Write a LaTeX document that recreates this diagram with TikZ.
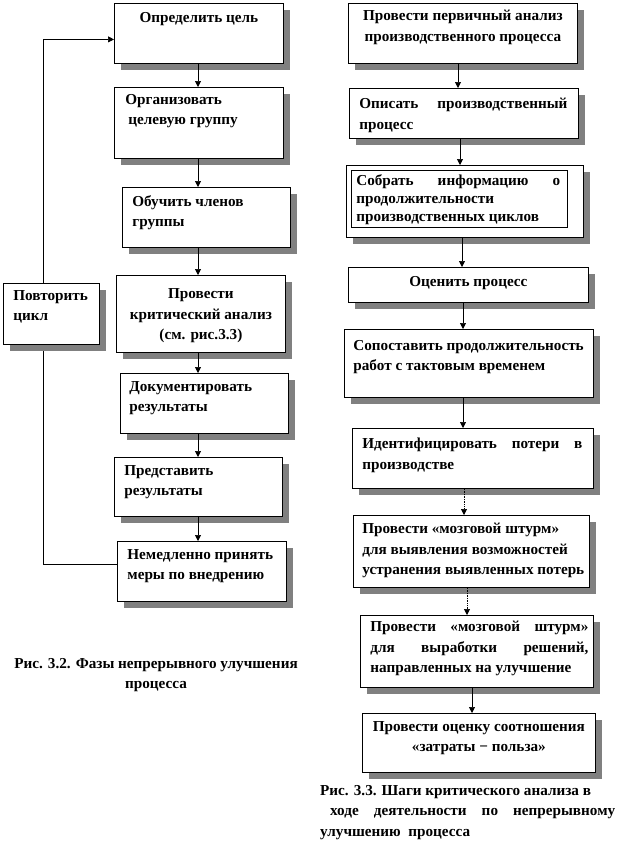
\documentclass[tikz,border=0pt]{standalone}
\usepackage{fontspec}
\setmainfont{Liberation Serif}[BoldFont={Liberation Serif Bold}]
\usetikzlibrary{arrows.meta,shadows}
\newcommand\bxc[4]{\parbox[c][#2pt][t]{#1pt}{\vspace*{#3pt}#4}}
\newcommand\jst[2]{\makebox[#1pt][s]{#2}}
\begin{document}
\begin{tikzpicture}[x=1pt,y=-1pt,
  txt/.style={font=\fontsize{15.2}{20.5}\selectfont\bfseries},
  bx/.style={txt, draw=black, line width=0.8pt, fill=white, inner sep=0pt, anchor=north west,
    drop shadow={shadow xshift=7pt,shadow yshift=-7pt,fill=black!50,opacity=1}},
  ibx/.style={txt, draw=black, line width=0.6pt, inner sep=0pt, anchor=north west},
  arr/.style={-{Triangle[length=6pt,width=6pt]}, line width=0.7pt},
  lnk/.style={line width=0.7pt}]
\useasboundingbox (0,0) rectangle (628,854);
% left column
\node[bx] (l1) at (114,3) {\bxc{169}{60}{9}{\centering Определить цель}};
\node[bx] (l2) at (114,87) {\bxc{169}{71}{7}{\raggedright\leftskip=11pt Организовать\\\hspace*{3pt}целевую группу}};
\node[bx] (l3) at (122,187) {\bxc{168}{60}{8}{\raggedright\leftskip=10pt Обучить членов\\группы}};
\node[bx] (l4) at (116,275) {\bxc{169}{77}{13.5}{\centering Провести\\критический анализ\\(см. рис.3.3)}};
\node[bx] (l5) at (120,373) {\bxc{168}{60}{8}{\raggedright\leftskip=9pt Документировать\\результаты}};
\node[bx] (l6) at (114,457) {\bxc{168}{59}{8}{\raggedright\leftskip=10pt Представить\\результаты}};
\node[bx] (l7) at (117,541) {\bxc{169}{60}{8}{\raggedright\leftskip=10pt Немедленно принять\\меры по внедрению}};
% loop
\draw[lnk] ([yshift=7pt]l7.west) -| (43,344) coordinate (lb);
\draw[arr] (43,283) coordinate (lt) |- ([yshift=-6pt]l1.west);
\node[bx] (rep) at (3,283) {\bxc{96}{61}{7}{\raggedright\leftskip=10pt Повторить\\цикл}};
\coordinate (axl) at (198,0);
\foreach \a/\b in {l1/l2,l2/l3,l3/l4,l4/l5,l5/l6,l6/l7}
  \draw[arr] (\a.south -| axl) -- (\b.north -| axl);
\node[txt, align=center] (capl) at (156,675) {Рис. 3.2. Фазы непрерывного улучшения\\процесса};
% right column
\node[bx] (r1) at (348,3) {\bxc{229}{60}{7}{\centering Провести первичный анализ\\производственного процесса}};
\node[bx] (r2) at (349,88) {\bxc{229}{50}{10}{\raggedright\leftskip=10pt \jst{208}{Описать производственный}\\процесс}};
\node[bx, minimum width=237pt, minimum height=72pt] (r3) at (346,165) {};
\node[ibx] (r3i) at (351,170) {\bxc{216}{57}{4}{\raggedright\leftskip=5pt\baselineskip=18pt \jst{204}{Собрать информацию о}\\продолжительности\\производственных циклов}};
\node[bx] (r4) at (348,267) {\bxc{240}{35}{9}{\centering Оценить процесс}};
\node[bx] (r5) at (344,329) {\bxc{249}{68}{11}{\raggedright\leftskip=9pt Сопоставить продолжительность\\работ с тактовым временем}};
\node[bx] (r6) at (352,428) {\bxc{241}{60}{10}{\raggedright\leftskip=10pt \jst{220}{Идентифицировать потери в}\\производстве}};
\node[bx] (r7) at (353,515) {\bxc{236}{72}{8}{\raggedright\leftskip=9pt Провести «мозговой штурм»\\для выявления возможностей\\устранения выявленных потерь}};
\node[bx] (r8) at (360,615) {\bxc{233}{72}{6}{\raggedright\leftskip=10pt \jst{218}{Провести «мозговой штурм»}\\\jst{218}{для выработки решений,}\\направленных на улучшение}};
\node[bx] (r9) at (362,713) {\bxc{233}{59}{8}{\centering Провести оценку соотношения\\«затраты − польза»}};
\foreach \a/\b/\x in {r1/r2/458,r2/r3/460,r3/r4/462,r4/r5/463,r5/r6/463,r8/r9/472}
  \draw[arr] (\a.south -| \x,0) -- (\b.north -| \x,0);
\foreach \a/\b/\x in {r6/r7/464,r7/r8/467}
  \draw[arr, densely dotted] (\a.south -| \x,0) -- (\b.north -| \x,0);
\node[txt, anchor=north west, inner sep=0pt, align=left] (capr) at (320,785) {Рис. 3.3. Шаги критического\ анализа в\\\hspace*{10pt}\jst{285}{ходе деятельности по непрерывному}\\улучшению\ \ процесса};
\end{tikzpicture}
\end{document}
